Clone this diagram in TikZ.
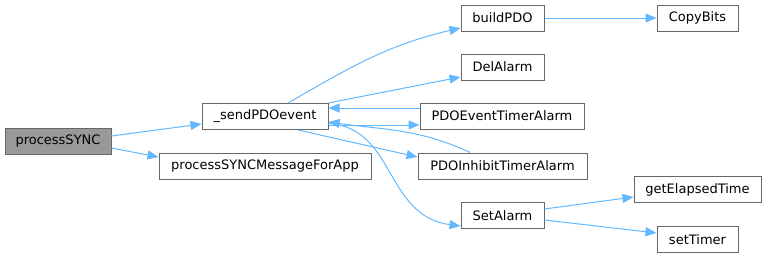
\documentclass[tikz,border=0pt]{standalone}
\usepackage{fontspec}
\setmainfont{DejaVu Sans}
\usetikzlibrary{arrows.meta}
\definecolor{edgeblue}{HTML}{63B8FF}
\definecolor{boxgray}{HTML}{666666}
\definecolor{rootgray}{HTML}{999999}

\begin{document}
\begin{tikzpicture}[
       x=1pt, y=-1pt,
       fn/.style={draw=boxgray, fill=white, line width=1pt, minimum height=26pt,
                  inner sep=0pt, font=\fontsize{13}{15}\selectfont},
       root/.style={fn, fill=rootgray},
       call/.style={draw=edgeblue, line width=1pt, -{Triangle[length=11pt,width=9pt]}}
   ]

   \useasboundingbox (0,0) rectangle (767,257);

   \node[root, minimum width=106pt] (processSYNC) at (58,141) {processSYNC};
   \node[fn, minimum width=126pt] (sendPDOevent) at (265,116.5) {\_sendPDOevent};
   \node[fn, minimum width=212pt] (processSYNCMessageForApp) at (265,166) {processSYNCMessageForApp};

   \node[fn, minimum width=83pt] (buildPDO) at (502.5,18) {buildPDO};
   \node[fn, minimum width=83pt] (DelAlarm) at (502.5,67) {DelAlarm};
   \node[fn, minimum width=164pt] (PDOEventTimerAlarm) at (502,116) {PDOEventTimerAlarm};
   \node[fn, minimum width=169pt] (PDOInhibitTimerAlarm) at (502.5,166) {PDOInhibitTimerAlarm};
   \node[fn, minimum width=83pt] (SetAlarm) at (502.5,215.5) {SetAlarm};

   \node[fn, minimum width=81pt] (CopyBits) at (697.5,18) {CopyBits};
   \node[fn, minimum width=127pt] (getElapsedTime) at (697.5,189.5) {getElapsedTime};
   \node[fn, minimum width=81pt] (setTimer) at (697.5,239.5) {setTimer};

   \draw[call] ([yshift=5pt]processSYNC.east) -- ([yshift=-7.5pt]sendPDOevent.west);
   \draw[call] ([yshift=-7pt]processSYNC.east) -- ([yshift=9pt]processSYNCMessageForApp.west);

   \draw[call] ([xshift=23pt]sendPDOevent.north) to[out=30, in=193] ([yshift=-10pt]buildPDO.west);
   \draw[call] (sendPDOevent.north east) -- ([yshift=-10pt]DelAlarm.west);
   \draw[call] ([yshift=8pt]PDOEventTimerAlarm.west) -- ([yshift=8.5pt]sendPDOevent.east);
   \draw[call] ([yshift=-8.5pt]sendPDOevent.east) -- ([yshift=-9pt]PDOEventTimerAlarm.west);
   \draw[call] ([xshift=-32.5pt]PDOInhibitTimerAlarm.north) to[out=155, in=-8] ([yshift=-5.5pt]sendPDOevent.east);
   \draw[call] ([xshift=33pt]sendPDOevent.south) -- ([yshift=9pt]PDOInhibitTimerAlarm.west);
   \draw[call] ([yshift=-7pt]sendPDOevent.east) .. controls +(67,4) and +(-76,-10) .. ([yshift=-10.5pt]SetAlarm.west);

   \draw[call] (buildPDO.east) -- (CopyBits.west);
   \draw[call] ([yshift=6.5pt]SetAlarm.east) -- ([yshift=-7.5pt]getElapsedTime.west);
   \draw[call] ([yshift=-4.5pt]SetAlarm.east) -- ([yshift=6.5pt]setTimer.west);
   \end{tikzpicture}
\end{document}
